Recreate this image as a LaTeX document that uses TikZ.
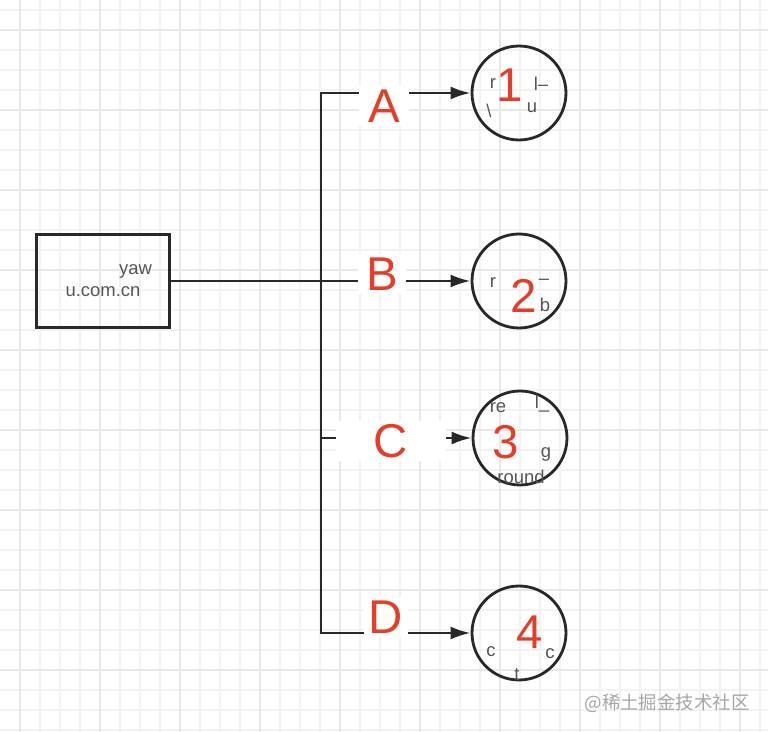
\documentclass[tikz,border=0pt]{standalone}
\usepackage{fontspec}
\setmainfont{Liberation Sans}
\newfontfamily\cjkfont{Noto Sans CJK SC}
\usetikzlibrary{arrows.meta}
\definecolor{gridminor}{RGB}{242,242,242}
\definecolor{gridmajor}{RGB}{232,232,232}
\definecolor{markred}{RGB}{228,62,40}
\definecolor{ink}{RGB}{40,40,40}
\definecolor{faint}{RGB}{85,85,85}
\definecolor{wmark}{RGB}{165,165,165}

\begin{document}
\begin{tikzpicture}[
    x=0.02cm, y=-0.02cm,
    hostbox/.style={draw=ink, line width=1.6pt, minimum width=2.66cm, minimum height=1.86cm, align=center, text=faint, font=\fontsize{10.5}{12.5}\selectfont},
    target/.style={draw=ink, circle, line width=1.6pt, minimum size=1.88cm, inner sep=0pt},
    wire/.style={draw=ink, line width=1.5pt, line cap=rect},
    arr/.style={wire, -{Latex[length=4mm, width=2.6mm]}},
    tag/.style={text=markred, inner sep=0pt, font=\fontsize{27}{27}\selectfont},
    gap/.style={tag, fill=white, minimum height=0.8cm},
    frag/.style={text=faint, inner sep=0pt, font=\fontsize{10.5}{10.5}\selectfont}
]
\useasboundingbox (0,0) rectangle (768,732);

% grid paper
\foreach \gx in {20,40,...,760} \draw[gridminor, line width=0.6pt] (\gx,0) -- (\gx,732);
\foreach \gy in {10,30,...,730} \draw[gridminor, line width=0.6pt] (0,\gy) -- (768,\gy);
\foreach \gx in {20,100,...,740} \draw[gridmajor, line width=0.6pt] (\gx,0) -- (\gx,732);
\foreach \gy in {30,110,...,670} \draw[gridmajor, line width=0.6pt] (0,\gy) -- (768,\gy);

\node[hostbox] (host) at (103,281) {\hspace*{1.3cm}yaw\\u.com.cn};

\node[target] (c1) at (519,93) {};
\node[target] (c2) at (519,281) {};
\node[target] (c3) at (520,438) {};
\node[target] (c4) at (519,633) {};

\coordinate (top) at (321,93);
\coordinate (midc) at (321,438);
\coordinate (bot) at (321,633);

\draw[wire] (top) -- (bot);
\draw[arr] (top) -- (c1);
\draw[arr] (host) -- (c2);
\draw[arr] (midc) -- (c3);
\draw[arr] (bot) -- (c4);

\node[gap, minimum width=1cm] (la) at (384,106) {A};
\node[gap, minimum width=0.96cm] (lb) at (382,274) {B};
\node[gap, minimum width=2.2cm] (lc) at (391,441) {C};
\node[gap, minimum width=0.9cm] (ld) at (386,617) {D};

% what is left of the circle texts
\node[frag] (f1a) at (493,84) {r};
\node[frag] (f1b) at (541,84) {l–};
\node[frag] (f1c) at (489,111) {\textbackslash};
\node[frag] (f1d) at (532,108) {u};
\node[frag] (f2a) at (493,283) {r};
\node[frag] (f2b) at (544,282) {–};
\node[frag] (f2c) at (545,305) {b};
\node[frag] (f3a) at (498,408) {re};
\node[frag] (f3b) at (542,404) {l\_};
\node[frag] (f3c) at (546,454) {g};
\node[frag] (f3d) at (521,477) {round};
\node[frag] (f4a) at (491,652) {c};
\node[frag] (f4b) at (550,654) {c};
\node[frag] (f4c) at (517,675) {t};

\node[tag] (n1) at (510,85) {1};
\node[tag] (n2) at (524,296) {2};
\node[tag] (n3) at (506,442) {3};
\node[tag] (n4) at (530,632) {4};

\node[text=wmark, anchor=east, inner sep=0pt, font=\cjkfont\fontsize{10.5}{12}\selectfont] (mark) at (750,703) {@稀土掘金技术社区};
\end{tikzpicture}
\end{document}
